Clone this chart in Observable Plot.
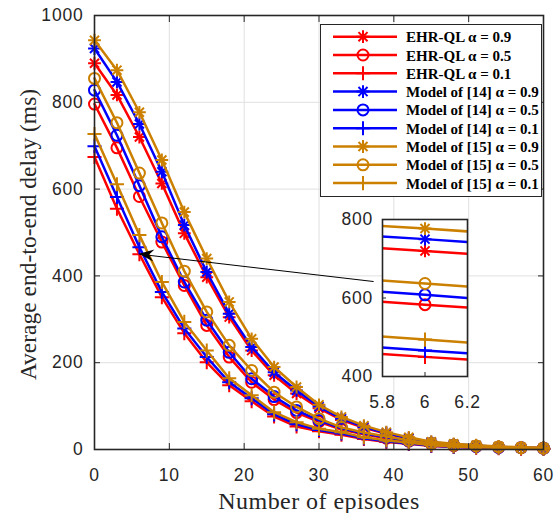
<!DOCTYPE html>
<html><head><meta charset="utf-8">
<script src="https://cdn.jsdelivr.net/npm/d3@7"></script>
<script src="https://cdn.jsdelivr.net/npm/@observablehq/plot@0.6"></script>
<style>
body{margin:0;background:#fff;}
#wrap{position:relative;width:554px;height:513px;}
#wrap svg{position:absolute;left:0;top:0;}
</style></head><body><div id="wrap"></div>
<script>
// ---------- data ----------
const episodes = [0,3,6,9,12,15,18,21,24,27,30,33,36,39,42,45,48,51,54,57,60];
const ehr09   = [890,817,720,613,498,397,305,228,171,129,95,68,50,36,25,16,11,8,6,4,3];
const ehr05   = [796,695,583,478,378,286,213,155,115,85,64,46,35,26,19,13,9,7,5,4,3];
const ehr01   = [674,555,450,351,268,201,148,111,76,53,42,34,24,17,13,8,6,4,3,2,1];
const m14_09  = [924,847,750,640,517,409,313,236,178,136,99,71,52,38,26,17,12,9,6,4,3];
const m14_05  = [828,724,608,490,386,298,224,163,122,90,67,49,37,28,20,14,10,7,5,4,3];
const m14_01  = [699,582,466,363,279,213,155,118,81,58,45,37,26,19,14,9,6,5,4,3,2];
const m15_09  = [943,874,777,667,547,440,340,255,190,144,103,75,55,40,28,18,13,10,7,5,4];
const m15_05  = [855,753,637,522,411,317,240,182,132,98,71,51,39,30,21,14,10,8,6,4,3];
const m15_01  = [727,611,494,386,294,228,164,125,86,63,48,40,28,21,16,10,7,5,4,3,2];

const seriesValues  = [ehr09, ehr05, ehr01, m14_09, m14_05, m14_01, m15_09, m15_05, m15_01];
const seriesModels  = ["EHR-QL","EHR-QL","EHR-QL","Model of [14]","Model of [14]","Model of [14]","Model of [15]","Model of [15]","Model of [15]"];
const seriesAlphas  = ["0.9","0.5","0.1","0.9","0.5","0.1","0.9","0.5","0.1"];
const seriesColors  = ["#ff0000","#ff0000","#ff0000","#0000ff","#0000ff","#0000ff","#cc8000","#cc8000","#cc8000"];
const seriesSymbols = ["star","circle","plus","star","circle","plus","star","circle","plus"];

const xTicks = [0,10,20,30,40,50,60];
const yTicks = [0,200,400,600,800,1000];
const insetXTicks = [5.8,6,6.2];
const insetYTicks = [400,600,800];
const xLabel = "Number of episodes";
const yLabel = "Average end-to-end delay (ms)";
const arrowFrom = {x: 37.3, y: 387};
const arrowTo = {x: 6, y: 450};

// ---------- helpers ----------
const tickFont = "Liberation Sans, Arial, Helvetica, sans-serif";
const serifFont = "Liberation Serif, Times New Roman, serif";
const axisColor = "#262626";
const fmt = d => String(d);

const series = seriesValues.map((vals, i) => ({
  name: `${seriesModels[i]} \u03b1 = ${seriesAlphas[i]}`,
  color: seriesColors[i], symbol: seriesSymbols[i],
  data: episodes.map((x, j) => ({x, y: vals[j]}))
}));

function seriesMarks(s, extra = {}, dotFilter = null) {
  const dd = dotFilter ? s.data.filter(dotFilter) : s.data;
  const m = [Plot.line(s.data, {x: "x", y: "y", stroke: s.color, strokeWidth: 2.5, ...extra})];
  const common = {x: "x", y: "y", stroke: s.color, strokeWidth: 2, fill: "none", ...extra};
  if (s.symbol === "star") {
    m.push(Plot.dot(dd, {...common, symbol: "plus", r: 4.2}));
    m.push(Plot.dot(dd, {...common, symbol: "times", r: 4.2}));
  } else if (s.symbol === "circle") {
    m.push(Plot.dot(dd, {...common, symbol: "circle", r: 5.5}));
  } else {
    m.push(Plot.dot(dd, {...common, symbol: "plus", r: 4.6}));
  }
  return m;
}

const wrap = document.getElementById("wrap");

// ---------- main chart ----------
const main = Plot.plot({
  width: 554, height: 513,
  marginLeft: 94, marginRight: 11, marginTop: 15, marginBottom: 64,
  x: {domain: [0, 60]},
  y: {domain: [0, 1000]},
  style: {background: "transparent", overflow: "visible"},
  marks: [
    Plot.gridX(xTicks.filter(t => t > 0 && t < 60), {stroke: "#e0e0e0", strokeOpacity: 1}),
    Plot.gridY(yTicks.filter(t => t > 0 && t < 1000), {stroke: "#e0e0e0", strokeOpacity: 1}),
    ...series.flatMap(s => seriesMarks(s)),
    Plot.link([{...arrowFrom, x2: arrowTo.x, y2: arrowTo.y}], {x1: "x", y1: "y", x2: "x2", y2: "y2", stroke: "black", strokeWidth: 1}),
    Plot.frame({stroke: axisColor, strokeWidth: 1.6}),
    Plot.axisX(xTicks, {tickSize: -6, tickPadding: 25, tickFormat: fmt, fontSize: 17.5, fontFamily: tickFont, color: axisColor, label: null}),
    Plot.axisX(xTicks, {anchor: "top", tickSize: -6, tickFormat: () => "", color: axisColor, label: null}),
    Plot.axisY(yTicks, {tickSize: -6, tickPadding: 17, tickFormat: fmt, fontSize: 17.5, fontFamily: tickFont, color: axisColor, label: null}),
    Plot.axisY(yTicks, {anchor: "right", tickSize: -6, tickFormat: () => "", color: axisColor, label: null}),
    Plot.text([xLabel], {text: d => d, frameAnchor: "bottom", dy: 59, lineAnchor: "bottom", textAnchor: "middle", fontSize: 24, fontFamily: serifFont, fill: axisColor}),
    Plot.text([yLabel], {text: d => d, frameAnchor: "left", dx: -59, dy: 2, rotate: -90, lineAnchor: "bottom", textAnchor: "middle", fontSize: 23.5, fontFamily: serifFont, fill: axisColor})
  ]
});
wrap.appendChild(main);

// spacing tweaks for text
d3.select(main).selectAll("text").each(function() {
  const t = this.textContent;
  if (t === xLabel) this.setAttribute("letter-spacing", "0.45");
  else if (/^\d+$/.test(t)) this.setAttribute("letter-spacing", "0.8");
});

// filled arrowhead, positioned with the plot's scales
{
  const sx = main.scale("x"), sy = main.scale("y");
  const hx = sx.apply(arrowTo.x), hy = sy.apply(arrowTo.y);
  const tx = sx.apply(arrowFrom.x), ty = sy.apply(arrowFrom.y);
  const ang = Math.atan2(ty - hy, tx - hx);
  const L = 15, W = 6, N = 10;
  const p = (a, b) => [hx + a * Math.cos(ang) - b * Math.sin(ang), hy + a * Math.sin(ang) + b * Math.cos(ang)];
  const pts = [p(0, 0), p(L, W), p(N, 0), p(L, -W)];
  d3.select(main).append("path").attr("d", "M" + pts.map(q => q.join(",")).join("L") + "Z").attr("fill", "black");
}

// ---------- inset ----------
const inset = Plot.plot({
  width: 140, height: 200,
  marginLeft: 42, marginRight: 13, marginTop: 9, marginBottom: 34,
  x: {domain: [5.8, 6.2]},
  y: {domain: [400, 800]},
  style: {background: "transparent", overflow: "visible"},
  marks: [
    Plot.frame({fill: "white"}),
    ...series.flatMap(s => seriesMarks(s, {clip: true}, d => d.x === 6)),
    Plot.frame({stroke: axisColor, strokeWidth: 1.6}),
    Plot.axisX(insetXTicks, {tickSize: -4, tickPadding: 23, tickFormat: fmt, fontSize: 17.5, fontFamily: tickFont, color: axisColor, label: null}),
    Plot.axisY(insetYTicks, {tickSize: -4, tickPadding: 13.5, tickFormat: fmt, fontSize: 17.5, fontFamily: tickFont, color: axisColor, label: null})
  ]
});
inset.style.left = "340px";
inset.style.top = "210px";
wrap.appendChild(inset);
d3.select(inset).selectAll("text").attr("letter-spacing", "0.8");

// ---------- legend ----------
{
  const lw = 222, lh = 173;
  const leg = d3.select(wrap).append("svg").attr("width", lw).attr("height", lh)
    .style("left", "320px").style("top", "24px");
  leg.append("rect").attr("x", 0.5).attr("y", 0.5).attr("width", lw - 1).attr("height", lh - 1)
    .attr("fill", "white").attr("stroke", axisColor).attr("stroke-width", 1);
  const sym = (type, r) => d3.symbol(type, Math.PI * r * r)();
  series.forEach((s, i) => {
    const cy = 12.7 + i * 18.3;
    const g = leg.append("g");
    g.append("line").attr("x1", 13).attr("x2", 77).attr("y1", cy).attr("y2", cy)
      .attr("stroke", s.color).attr("stroke-width", 2.5);
    const mk = (type, r) => g.append("path").attr("d", sym(type, r)).attr("transform", `translate(43,${cy})`)
      .attr("fill", "none").attr("stroke", s.color).attr("stroke-width", 2);
    if (s.symbol === "star") { mk(d3.symbolPlus, 4.2); mk(d3.symbolTimes, 4.2); }
    else if (s.symbol === "circle") mk(d3.symbolCircle, 5.5);
    else mk(d3.symbolPlus, 4.6);
    g.append("text").attr("x", 86).attr("y", cy + 5.5).text(s.name)
      .attr("font-family", serifFont).attr("font-weight", "bold").attr("font-size", 15).attr("fill", "black");
  });
}
</script></body></html>
